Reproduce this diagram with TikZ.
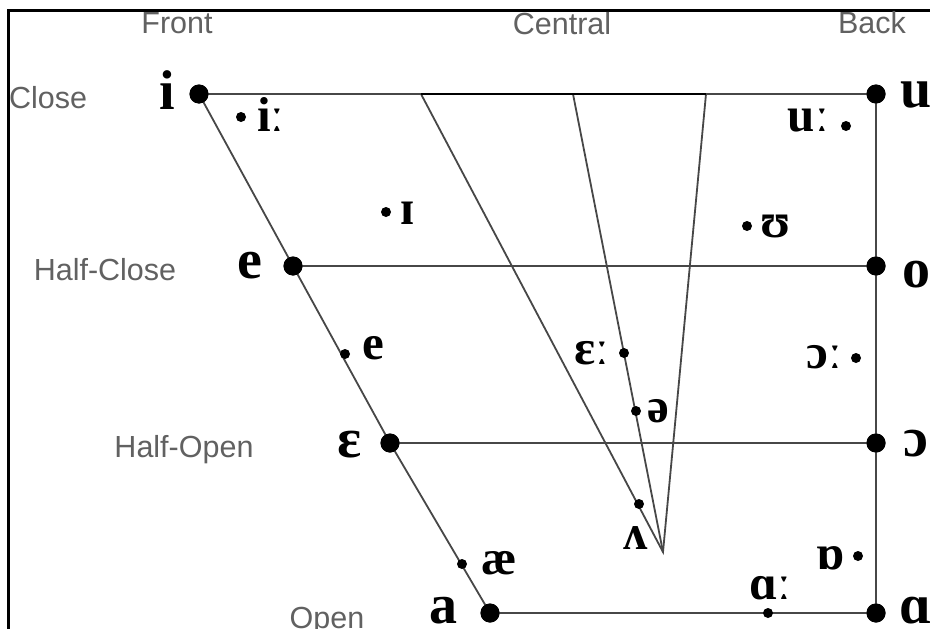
\documentclass[tikz,border=0pt]{standalone}
\usepackage{fontspec}
\setmainfont{Liberation Serif}
\newfontfamily\lblfont{Liberation Sans}
\begin{document}
\begin{tikzpicture}[x=1pt,y=-1pt,
  bigdot/.style={circle, fill=black, inner sep=0pt, minimum size=19pt},
  smalldot/.style={circle, fill=black, inner sep=0pt, minimum size=10pt},
  ipabig/.style={font=\fontsize{56}{56}\selectfont\bfseries, inner sep=0pt},
  ipasmall/.style={font=\fontsize{49}{49}\selectfont\bfseries, inner sep=0pt},
  axislbl/.style={font=\lblfont\fontsize{30.5}{30.5}\selectfont, text=black!62, inner sep=0pt},
  chart/.style={draw=black!72, line width=1.8pt},
  frameline/.style={draw=black, line width=3pt}]
\useasboundingbox (0,0) rectangle (930,629);
\fill[white] (0,0) rectangle (930,629);
% frame
\coordinate (fTL) at (8.5,10);
\coordinate (fTR) at (932,10);
\coordinate (fBL) at (8.5,631);
\draw[frameline] (fTR) -- (fTL) -- (fBL);
% central triangle coordinates
\coordinate (c1) at (421,94);
\coordinate (c2) at (573,94);
\coordinate (c3) at (706,94);
\coordinate (apex) at (663,552);
% main vertices
\node[bigdot] (vi) at (199,94) {};
\node[bigdot] (vu) at (876,94) {};
\node[bigdot] (ve) at (293,266) {};
\node[bigdot] (vo) at (876,266) {};
\node[bigdot] (veps) at (390,443) {};
\node[bigdot] (voo) at (876,443) {};
\node[bigdot] (va) at (490,613) {};
\node[bigdot] (vaa) at (876,613) {};
% chart lines
\draw[chart] (vi.center) -- (vu.center);
\draw[chart] (ve.center) -- (vo.center);
\draw[chart] (veps.center) -- (voo.center);
\draw[chart] (va.center) -- (vaa.center);
\draw[chart] (vu.center) -- (vaa.center);
\draw[chart] (vi.center) -- (ve.center) -- (veps.center) -- (va.center);
\draw[chart] (c1) -- (apex) -- (c3);
\draw[chart] (c2) -- (apex);
\draw[draw=black, line width=2.2pt] (c1) -- (c3);
% redraw big dots on top
\foreach \n in {vi,vu,ve,vo,veps,voo,va,vaa} \fill (\n) circle (9.5pt);
% big labels
\node[ipabig] (li) at (167,90) {i};
\node[ipabig] (lu) at (916,95) {u};
\node[ipabig] (le) at (250,266) {e};
\node[ipabig] (lo) at (916,275) {o};
\node[ipabig] (leps) at (349,445) {ɛ};
\node[ipabig] (loo) at (916,444) {ɔ};
\node[ipabig] (la) at (443,611) {a};
\node[ipabig] (laa) at (916,611) {ɑ};
% small vowels
\node[smalldot] (di) at (241,117) {};
\node[ipasmall, anchor=west] (ti) at (257,114) {iː};
\node[smalldot] (dI) at (386,212) {};
\node[ipasmall, anchor=west] (tI) at (400,213) {ɪ};
\node[smalldot] (dU) at (747,226) {};
\node[ipasmall, anchor=west] (tU) at (760,226) {ʊ};
\node[smalldot] (du) at (846,126) {};
\node[ipasmall, anchor=east] (tu) at (829,121) {uː};
\node[smalldot] (de) at (345,354) {};
\node[ipasmall, anchor=west] (te) at (362,348) {e};
\node[smalldot] (d3) at (624,353) {};
\node[ipasmall, anchor=east] (t3) at (609,353) {ɛː};
\node[smalldot] (dschwa) at (636,411) {};
\node[ipasmall, anchor=west] (tschwa) at (647,411) {ə};
\node[smalldot] (dv) at (639,504) {};
\node[ipasmall] (tv) at (636,538) {ʌ};
\node[smalldot] (dO) at (856,358) {};
\node[ipasmall, anchor=east] (tO) at (842,357) {ɔː};
\node[smalldot] (dQ) at (858,556) {};
\node[ipasmall, anchor=east] (tQ) at (845,558) {ɒ};
\node[smalldot] (dae) at (462,564) {};
\node[ipasmall, anchor=west] (tae) at (481,563) {æ};
\node[smalldot] (dA) at (768,613) {};
\node[ipasmall] (tA) at (770,588) {ɑː};
% axis labels
\node[axislbl] (front) at (177,23) {Front};
\node[axislbl] (central) at (562,24) {Central};
\node[axislbl] (back) at (872,23) {Back};
\node[axislbl] (close) at (48,98) {Close};
\node[axislbl] (hclose) at (105,270) {Half-Close};
\node[axislbl] (hopen) at (184,450) {Half-Open};
\node[axislbl] (open) at (327,621) {Open};
\end{tikzpicture}
\end{document}
